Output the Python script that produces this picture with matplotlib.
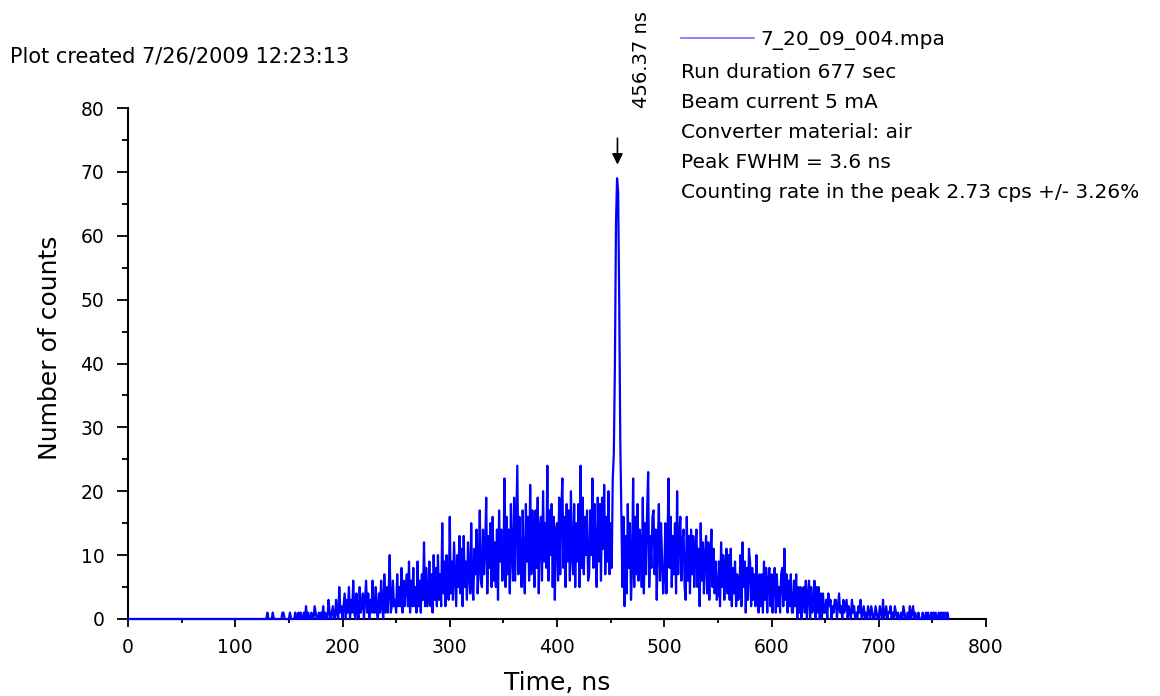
import numpy as np
import matplotlib
matplotlib.use("Agg")
import matplotlib.pyplot as plt
from matplotlib.ticker import MultipleLocator

plt.rcParams['font.family'] = ['DejaVu Sans']

# counts per 1 ns channel (channel 0 = 0 ns)
counts = [
    0, 0, 0, 0, 0, 0, 0, 0, 0, 0,   0, 0, 0, 0, 0, 0, 0, 0, 0, 0,
    0, 0, 0, 0, 0, 0, 0, 0, 0, 0,   0, 0, 0, 0, 0, 0, 0, 0, 0, 0,
    0, 0, 0, 0, 0, 0, 0, 0, 0, 0,   0, 0, 0, 0, 0, 0, 0, 0, 0, 0,
    0, 0, 0, 0, 0, 0, 0, 0, 0, 0,   0, 0, 0, 0, 0, 0, 0, 0, 0, 0,
    0, 0, 0, 0, 0, 0, 0, 0, 0, 0,   0, 0, 0, 0, 0, 0, 0, 0, 0, 0,
    0, 0, 0, 0, 0, 0, 0, 0, 0, 0,   0, 0, 0, 0, 0, 0, 0, 0, 0, 0,
    0, 0, 0, 0, 0, 0, 0, 0, 0, 0,
    # 130 ns
    1, 0, 0, 0, 0, 1, 0, 0, 0, 0,   0, 0, 0, 0, 1, 1, 0, 0, 0, 0,
    0, 1, 0, 0, 0, 0, 1, 0, 0, 1,   0, 1, 0, 0, 1, 0, 2, 0, 1, 0,
    0, 1, 0, 0, 2, 1, 0, 0, 1, 0,   1, 0, 2, 0, 1, 0, 0, 3, 1, 0,
    1, 2, 0, 0, 3, 1, 0, 5, 1, 2,
    # 200 ns
    0, 2, 4, 0, 3, 1, 5, 0, 3, 1,   6, 1, 0, 4, 1, 0, 5, 1, 2, 4,
    0, 3, 6, 1, 4, 0, 3, 1, 6, 1,   1, 5, 1, 0, 4, 1, 6, 2, 0, 7,
    1, 5, 1, 4, 10, 1, 2, 6, 2, 3,
    # 250 ns
    1, 7, 2, 5, 2, 8, 1, 6, 2, 5,   7, 2, 9, 1, 6, 2, 8, 2, 5, 1,
    9, 2, 6, 1, 7, 3, 12, 2, 8, 2,  4, 9, 2, 7, 1, 10, 3, 8, 2, 10,
    3, 7, 2, 15, 4, 9, 2, 10, 5, 3,
    # 300 ns
    16, 4, 9, 3, 12, 7, 2, 10, 5, 13,   4, 11, 2, 13, 5, 9, 3, 12, 7, 4,
    15, 5, 3, 11, 7, 14, 4, 8, 17, 6,   5, 14, 7, 11, 19, 4, 13, 8, 15, 5,
    16, 6, 12, 5, 14, 3, 17, 9, 14, 6,
    # 350 ns
    8, 22, 5, 16, 7, 14, 4, 18, 10, 6,   19, 6, 15, 24, 7, 16, 9, 5, 17, 8,
    4, 18, 9, 16, 6, 21, 7, 17, 10, 5,   17, 8, 19, 4, 14, 16, 6, 20, 9, 15,
    8, 24, 6, 17, 10, 18, 5, 16, 3, 14,
    # 400 ns
    15, 6, 19, 7, 17, 22, 8, 16, 5, 18,   9, 17, 6, 20, 10, 7, 18, 5, 15, 9,
    18, 5, 24, 8, 19, 7, 16, 10, 17, 6,   7, 17, 10, 22, 8, 18, 11, 5, 19, 9,
    18, 6, 19, 11, 21, 7, 16, 9, 20, 7,
    # 450 ns - peak
    15, 8, 22, 26, 40, 62, 69, 67, 50, 28,
    # 460 ns
    17, 5, 16, 2, 13, 4, 18, 8, 15, 3,   8, 22, 5, 16, 7, 18, 6, 14, 12, 5,
    19, 4, 15, 7, 17, 23, 5, 13, 8, 16,  17, 7, 14, 3, 12, 18, 6, 15, 9, 4,
    # 500 ns
    7, 15, 4, 12, 22, 8, 16, 5, 13, 7,   15, 4, 20, 7, 13, 16, 6, 12, 14, 5,
    3, 16, 6, 13, 4, 14, 7, 13, 5, 11,   14, 5, 11, 2, 15, 6, 12, 4, 10, 13,
    4, 12, 3, 10, 14, 5, 11, 4, 9, 3,
    # 550 ns
    4, 9, 2, 12, 5, 10, 3, 8, 11, 4,   10, 3, 11, 2, 8, 4, 9, 2, 7, 3,
    4, 10, 2, 12, 5, 9, 1, 8, 3, 11,   9, 2, 8, 3, 7, 2, 10, 4, 1, 7,
    2, 7, 1, 9, 3, 8, 1, 6, 8, 2,
    # 600 ns
    7, 1, 6, 8, 1, 7, 2, 5, 1, 7,   8, 2, 11, 3, 7, 1, 6, 2, 7, 1,
    1, 6, 2, 7, 0, 5, 1, 5, 0, 4,   5, 1, 6, 0, 4, 6, 0, 5, 1, 2,
    6, 0, 5, 1, 5, 0, 4, 0, 4, 1,
    # 650 ns
    1, 3, 0, 4, 2, 3, 0, 2, 1, 3,   3, 0, 2, 4, 1, 2, 0, 3, 1, 2,
    3, 0, 2, 1, 0, 3, 1, 2, 0, 1,   0, 2, 1, 3, 0, 1, 2, 0, 1, 0,
    2, 1, 0, 2, 1, 0, 0, 2, 1, 0,
    # 700 ns
    0, 2, 1, 0, 3, 0, 1, 2, 0, 1,   1, 2, 0, 1, 0, 2, 1, 0, 1, 0,
    0, 1, 0, 2, 1, 0, 0, 1, 0, 2,   0, 1, 2, 0, 1, 0, 0, 1, 0, 0,
    0, 1, 0, 0, 1, 0, 1, 0, 0, 1,
    # 750 ns
    0, 1, 0, 1, 0, 0, 1, 0, 1, 0,   1, 0, 1, 0, 1, 0,
]
channel_width = 1.0
time_ns = channel_width * np.arange(len(counts))

peak_time = 456.37
file_name = '7_20_09_004.mpa'
plot_stamp = 'Plot created 7/26/2009 12:23:13'
info_lines = ['Run duration 677 sec',
              'Beam current 5 mA',
              'Converter material: air',
              'Peak FWHM = 3.6 ns',
              'Counting rate in the peak 2.73 cps +/- 3.26%']
info_baselines = [78, 108, 138, 168, 198]   # pixel rows from top

W, H = 1160, 696
fig = plt.figure(figsize=(W / 100, H / 100), dpi=100)
ax = fig.add_axes([128 / W, 1 - 619 / H, (986 - 128) / W, (619 - 108) / H])

line, = ax.plot(time_ns, counts, color='#0000ff', lw=1.6, zorder=3,
                clip_on=False, label=file_name)

ax.set_xlim(0, 800)
ax.set_ylim(0, 80)
ax.xaxis.set_major_locator(MultipleLocator(100))
ax.xaxis.set_minor_locator(MultipleLocator(50))
ax.yaxis.set_major_locator(MultipleLocator(10))
ax.yaxis.set_minor_locator(MultipleLocator(5))

for s in ['top', 'right']:
    ax.spines[s].set_visible(False)
for s in ['left', 'bottom']:
    ax.spines[s].set_linewidth(1.5)

ax.tick_params(axis='x', which='major', length=6, width=1.3, pad=8, labelsize=13.5)
ax.tick_params(axis='x', which='minor', length=3, width=1.3)
ax.tick_params(axis='y', which='major', length=8, width=1.3, pad=9, labelsize=13.5)
ax.tick_params(axis='y', which='minor', length=4.5, width=1.3)

ax.set_xlabel('Time, ns', fontsize=18)
ax.set_ylabel('Number of counts', fontsize=18)
ax.xaxis.set_label_coords(0.5, -0.102)
ax.yaxis.set_label_coords(-0.077, 0.53)

# peak marker
ax.annotate('', xy=(peak_time, 70.7), xytext=(peak_time, 75.7),
            arrowprops=dict(arrowstyle='-|>', color='k', lw=1.2, mutation_scale=16),
            annotation_clip=False)
ax.annotate('%.2f ns' % peak_time, xy=(peak_time, 80), xytext=(17, 0),
            textcoords='offset points', rotation=90, ha='center', va='bottom',
            fontsize=14, annotation_clip=False)

fig.text(10 / W, 1 - 62 / H, plot_stamp, fontsize=15, va='baseline', ha='left')

leg = fig.legend(handles=[line], loc='center left', bbox_to_anchor=(681 / W, 1 - 40 / H),
                 frameon=False, fontsize=14.5, handlelength=3.6, handletextpad=0.35,
                 borderpad=0, borderaxespad=0)
leg.get_lines()[0].set_color('#7070ff')
leg.get_lines()[0].set_linewidth(1.2)

for txt, yb in zip(info_lines, info_baselines):
    fig.text(681 / W, 1 - yb / H, txt, fontsize=14.5, va='baseline', ha='left')

fig.savefig('out.png', dpi=100)
